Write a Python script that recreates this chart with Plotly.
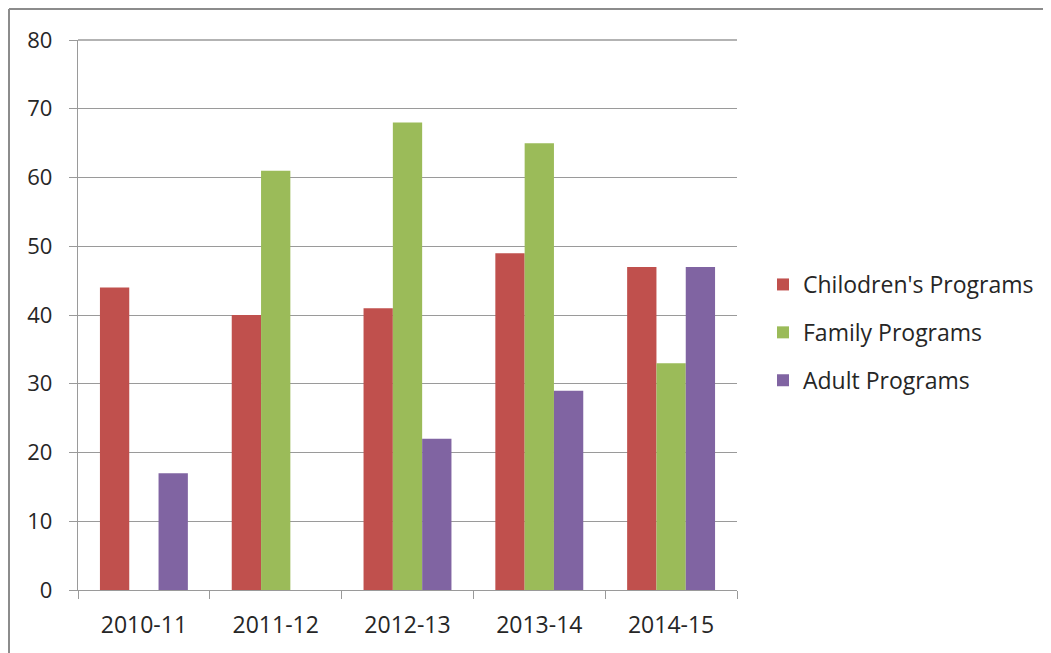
import plotly.graph_objects as go

categories = ["2010-11", "2011-12", "2012-13", "2013-14", "2014-15"]
children = [44, 40, 41, 49, 47]
family = [None, 61, 68, 65, 33]
adult = [17, None, 22, 29, 47]
series_names = ["Chilodren's Programs", "Family Programs", "Adult Programs"]
colors = ["#C0504D", "#9BBB59", "#8064A2"]
y_ticks = [0, 10, 20, 30, 40, 50, 60, 70, 80]

W, H = 1051, 653
OFF = 8  # page body margin
L, R, T, B = 78 - OFF, 737 - OFF, 40 - OFF, 590 - OFF

fig = go.Figure()
for i, (name, vals) in enumerate(zip(series_names, [children, family, adult])):
    fig.add_trace(go.Bar(x=categories, y=vals, name=name,
                         marker=dict(color=colors[i], line=dict(width=0)),
                         legendgroup=f"g{i}"))

font = "'Open Sans', Lato, sans-serif"
grid_col = "#9A9A9A"

def px2paper_x(px):
    return (px - OFF - L) / (R - L)

def px2paper_y(py):
    return (B - (py - OFF)) / (B - T)

fig.update_layout(
    width=W, height=H,
    margin=dict(l=L, r=W - R, t=T, b=H - B, pad=0, autoexpand=False),
    paper_bgcolor="white", plot_bgcolor="white",
    barmode="group", bargap=0.333, bargroupgap=0,
    font=dict(family=font, size=22, color="#262626"),
    showlegend=True,
    legend=dict(x=px2paper_x(763), y=px2paper_y(263), xanchor="left", yanchor="top",
                traceorder="grouped", tracegroupgap=15, itemwidth=30,
                font=dict(family=font, size=23, color="#262626"),
                bgcolor="rgba(0,0,0,0)"),
    xaxis=dict(type="category", showgrid=False, showline=True, linecolor=grid_col, linewidth=1.3,
               ticks="outside", tickson="boundaries", ticklen=8, tickcolor=grid_col,
               automargin=False, tickangle=0, ticklabelstandoff=14,
               tickfont=dict(family=font, size=23, color="#262626")),
    yaxis=dict(range=[0, 80], tickvals=y_ticks,
               showgrid=True, gridcolor=grid_col, gridwidth=1.3,
               showline=True, linecolor=grid_col, linewidth=1.3, automargin=False,
               ticks="outside", ticklen=8, tickcolor=grid_col, zeroline=False,
               ticklabelstandoff=12,
               tickfont=dict(family=font, size=22, color="#262626")),
    shapes=[
        dict(type="line", xref="paper", yref="paper", x0=0, x1=1, y0=1, y1=1,
             line=dict(color=grid_col, width=1.3)),
        dict(type="line", xref="paper", yref="paper",
             x0=px2paper_x(9), x1=px2paper_x(9), y0=px2paper_y(9), y1=px2paper_y(660),
             line=dict(color="#8C8C8C", width=2)),
        dict(type="line", xref="paper", yref="paper",
             x0=px2paper_x(9), x1=px2paper_x(1060), y0=px2paper_y(9), y1=px2paper_y(9),
             line=dict(color="#8C8C8C", width=2)),
    ],
)

fig.write_html("out.html")
